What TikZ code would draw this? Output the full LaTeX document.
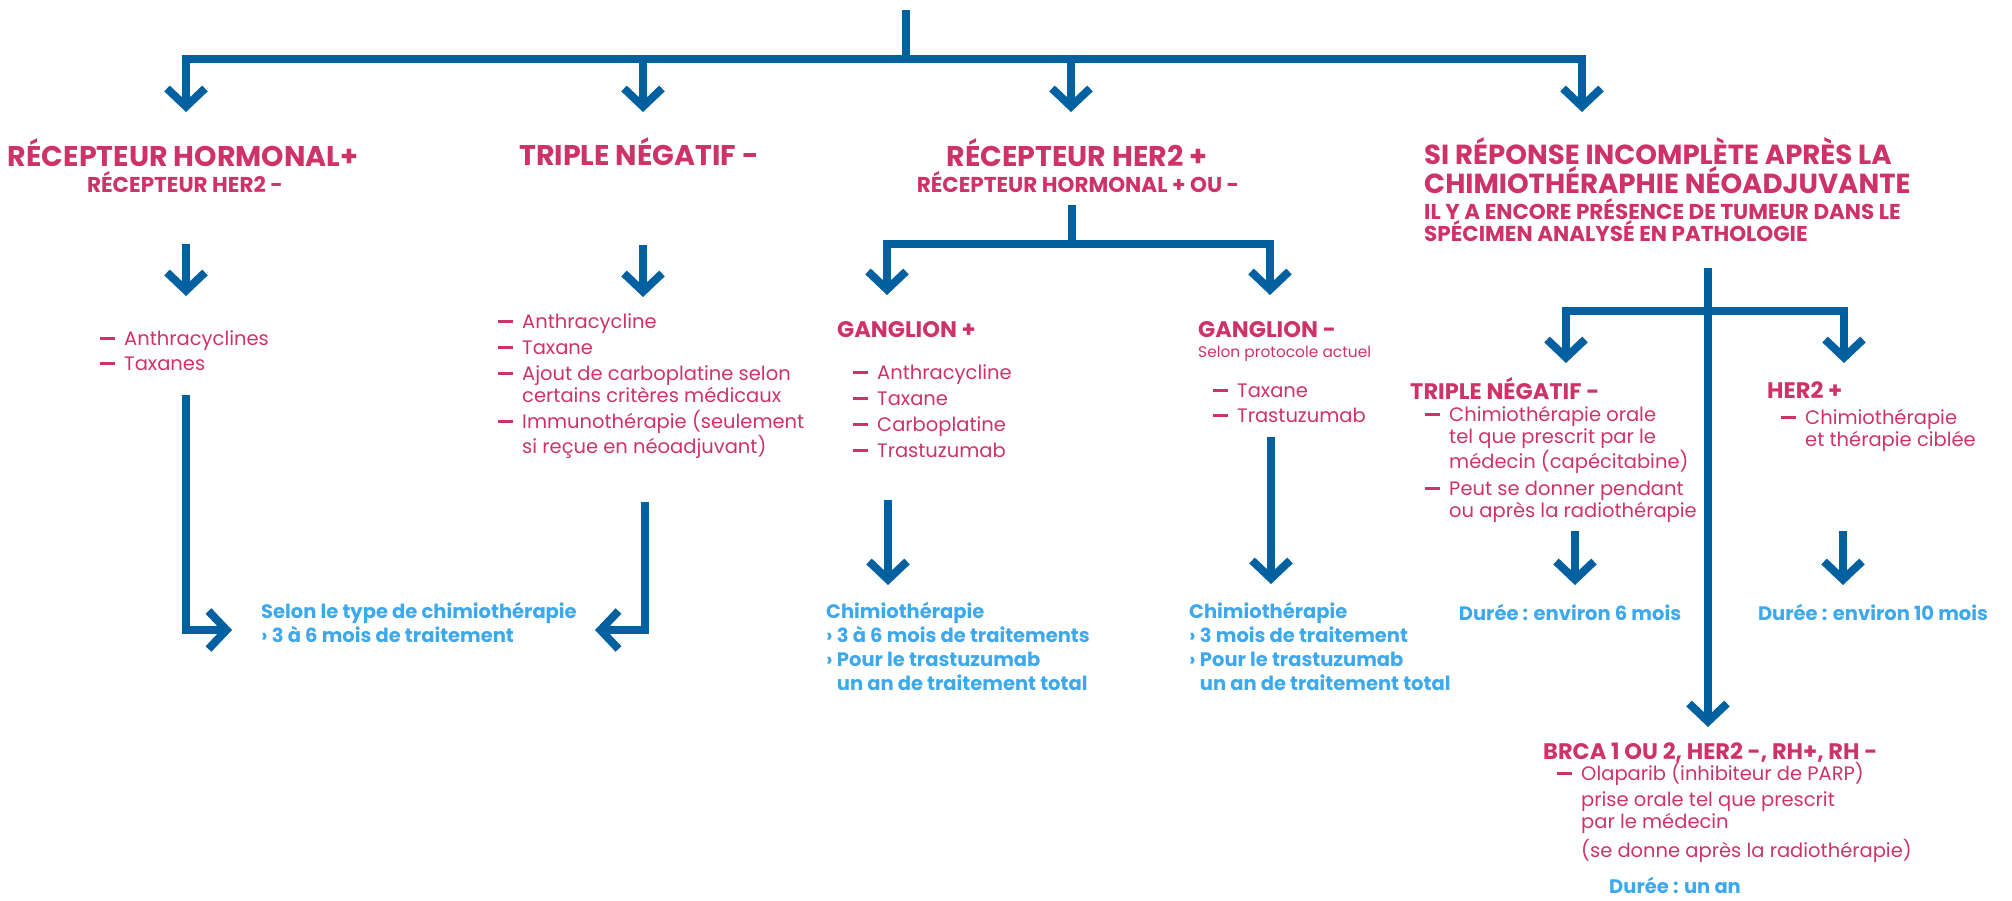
\documentclass[tikz,border=0pt]{standalone}
\usepackage{fontspec}
\setmainfont{Poppins}
\usetikzlibrary{arrows.meta, positioning}

\definecolor{rose}{RGB}{206,51,104}
\definecolor{bleu}{RGB}{0,96,160}
\definecolor{ciel}{RGB}{62,168,236}
\newcommand{\tiret}{\llap{\rule[5.5pt]{15pt}{3pt}\hspace{9pt}}}

\begin{document}
\begin{tikzpicture}[
  x=1pt, y=-1pt,
  trait/.style={draw=bleu, line width=8pt},
  fleche/.style={trait, -{Straight Barb[length=18pt, width=38pt]}},
  titre/.style={inner sep=0pt, text=rose, align=left, font=\bfseries\fontsize{28.5}{27}\selectfont},
  soustitre/.style={inner sep=0pt, text=rose, align=left, font=\bfseries\fontsize{21.5}{22}\selectfont},
  ganglion/.style={inner sep=0pt, text=rose, font=\bfseries\fontsize{22.5}{22}\selectfont},
  liste/.style={inner sep=0pt, text=rose, align=left, font=\fontsize{19.5}{22}\selectfont},
  duree/.style={inner sep=0pt, text=ciel, align=left, font=\bfseries\fontsize{19.5}{24}\selectfont}]

  \useasboundingbox (0,0) rectangle (2012,900);

  % titres du premier niveau (base = derniere ligne)
  \node[titre, anchor=base] (rh) at (183,166) {RÉCEPTEUR HORMONAL+};
  \node[soustitre, anchor=base] (rhsub) at (185,192) {RÉCEPTEUR HER2 -};
  \node[titre, anchor=base] (tn) at (639,165) {TRIPLE NÉGATIF -};
  \node[titre, anchor=base] (her) at (1077,166) {RÉCEPTEUR HER2 +};
  \node[soustitre, anchor=base] (hersub) at (1078,192) {RÉCEPTEUR HORMONAL + OU -};
  \node[titre, font=\bfseries\fontsize{27.6}{27}\selectfont, anchor=base west] (si) at (1424,193)
    {SI RÉPONSE INCOMPLÈTE APRÈS LA\\CHIMIOTHÉRAPHIE NÉOADJUVANTE};
  \node[soustitre, anchor=base west] (sisub) at (1424,241)
    {IL Y A ENCORE PRÉSENCE DE TUMEUR DANS LE\\SPÉCIMEN ANALYSÉ EN PATHOLOGIE};

  % traitements
  \node[liste, anchor=base west] (rhliste) at (124,370)
    {\tiret Anthracyclines\\[3pt]\tiret Taxanes};
  \node[liste, anchor=base west] (tnliste) at (522,453)
    {\tiret Anthracycline\\[4pt]\tiret Taxane\\[4pt]\tiret Ajout de carboplatine selon\\certains critères médicaux\\[4pt]\tiret Immunothérapie (seulement\\si reçue en néoadjuvant)};
  \node[duree, anchor=base west] (rhres) at (261,642)
    {Selon le type de chimiothérapie\\› 3 à 6 mois de traitement};

  \node[ganglion, anchor=base west] (gp) at (837,337) {GANGLION +};
  \node[liste, anchor=base west] (gpliste) at (877,457)
    {\tiret Anthracycline\\[4pt]\tiret Taxane\\[4pt]\tiret Carboplatine\\[4pt]\tiret Trastuzumab};
  \node[ganglion, anchor=base west] (gm) at (1198,337) {GANGLION -};
  \node[inner sep=0pt, text=rose, font=\fontsize{15.4}{16}\selectfont, anchor=base west] (gmsub) at (1198,357) {Selon protocole actuel};
  \node[liste, anchor=base west] (gmliste) at (1237,422)
    {\tiret Taxane\\[3pt]\tiret Trastuzumab};
  \node[duree, anchor=base west] (gpres) at (826,690)
    {Chimiothérapie\\› 3 à 6 mois de traitements\\› Pour le trastuzumab\\\hphantom{› }un an de traitement total};
  \node[duree, anchor=base west] (gmres) at (1189,690)
    {Chimiothérapie\\› 3 mois de traitement\\› Pour le trastuzumab\\\hphantom{› }un an de traitement total};

  % reponse incomplete
  \node[ganglion, anchor=base west] (sitn) at (1410,399) {TRIPLE NÉGATIF -};
  \node[liste, anchor=base west] (sitnliste) at (1449,517)
    {\tiret Chimiothérapie orale\\tel que prescrit par le\\médecin (capécitabine)\\[5pt]\tiret Peut se donner pendant\\ou après la radiothérapie};
  \node[ganglion, anchor=base west] (sih) at (1767,398) {HER2 +};
  \node[liste, anchor=base west] (sihliste) at (1805,446)
    {\tiret Chimiothérapie\\et thérapie ciblée};
  \node[duree, anchor=base] (dur6) at (1570,620) {Durée : environ 6 mois};
  \node[duree, anchor=base] (dur10) at (1873,620) {Durée : environ 10 mois};
  \node[ganglion, anchor=base west] (brca) at (1543,759) {BRCA 1 OU 2, HER2 -, RH+, RH -};
  \node[liste, anchor=base west] (brcaliste) at (1581,857)
    {\tiret Olaparib (inhibiteur de PARP)\\[4pt]prise orale tel que prescrit\\par le médecin\\[4pt](se donne après la radiothérapie)};
  \node[duree, anchor=base west] (dur1) at (1609,893) {Durée : un an};

  % points des fleches
  \coordinate (racine) at (906,10);
  \coordinate (bus) at (906,59);
  \coordinate (pRH) at (186,112);
  \coordinate (pTN) at (643,112);
  \coordinate (pHER) at (1071,112);
  \coordinate (pSI) at (1582,112);
  \coordinate (rhA) at (186,244);  \coordinate (rhB) at (186,296);
  \coordinate (tnA) at (643,245);  \coordinate (tnB) at (643,297);
  \coordinate (rhC) at (186,395);  \coordinate (rhD) at (232,630);
  \coordinate (tnC) at (645,502);  \coordinate (tnD) at (595,630);
  \coordinate (herA) at (1072,205); \coordinate (herB) at (1072,244);
  \coordinate (gpA) at (887,295);  \coordinate (gmA) at (1270,295);
  \coordinate (gpB) at (888,500);  \coordinate (gpC) at (888,585);
  \coordinate (gmB) at (1271,437); \coordinate (gmC) at (1271,584);
  \coordinate (siA) at (1708,268); \coordinate (siB) at (1708,311);
  \coordinate (siC) at (1708,727);
  \coordinate (sitnA) at (1566,363); \coordinate (sihA) at (1844,363);
  \coordinate (sitnB) at (1575,531); \coordinate (sitnC) at (1575,585);
  \coordinate (sihB) at (1843,531);  \coordinate (sihC) at (1843,585);

  % connecteurs
  \draw[trait] (racine) -- (bus);
  \foreach \p in {pRH, pTN, pHER, pSI}
    \draw[fleche] (bus) -| (\p);
  \draw[fleche] (rhA) -- (rhB);
  \draw[fleche] (tnA) -- (tnB);
  \draw[fleche] (rhC) |- (rhD);
  \draw[fleche] (tnC) |- (tnD);
  \draw[trait] (herA) -- (herB);
  \draw[fleche] (herB) -| (gpA);
  \draw[fleche] (herB) -| (gmA);
  \draw[fleche] (gpB) -- (gpC);
  \draw[fleche] (gmB) -- (gmC);
  \draw[fleche] (siA) -- (siC);
  \draw[fleche] (siB) -| (sitnA);
  \draw[fleche] (siB) -| (sihA);
  \draw[fleche] (sitnB) -- (sitnC);
  \draw[fleche] (sihB) -- (sihC);
\end{tikzpicture}
\end{document}
